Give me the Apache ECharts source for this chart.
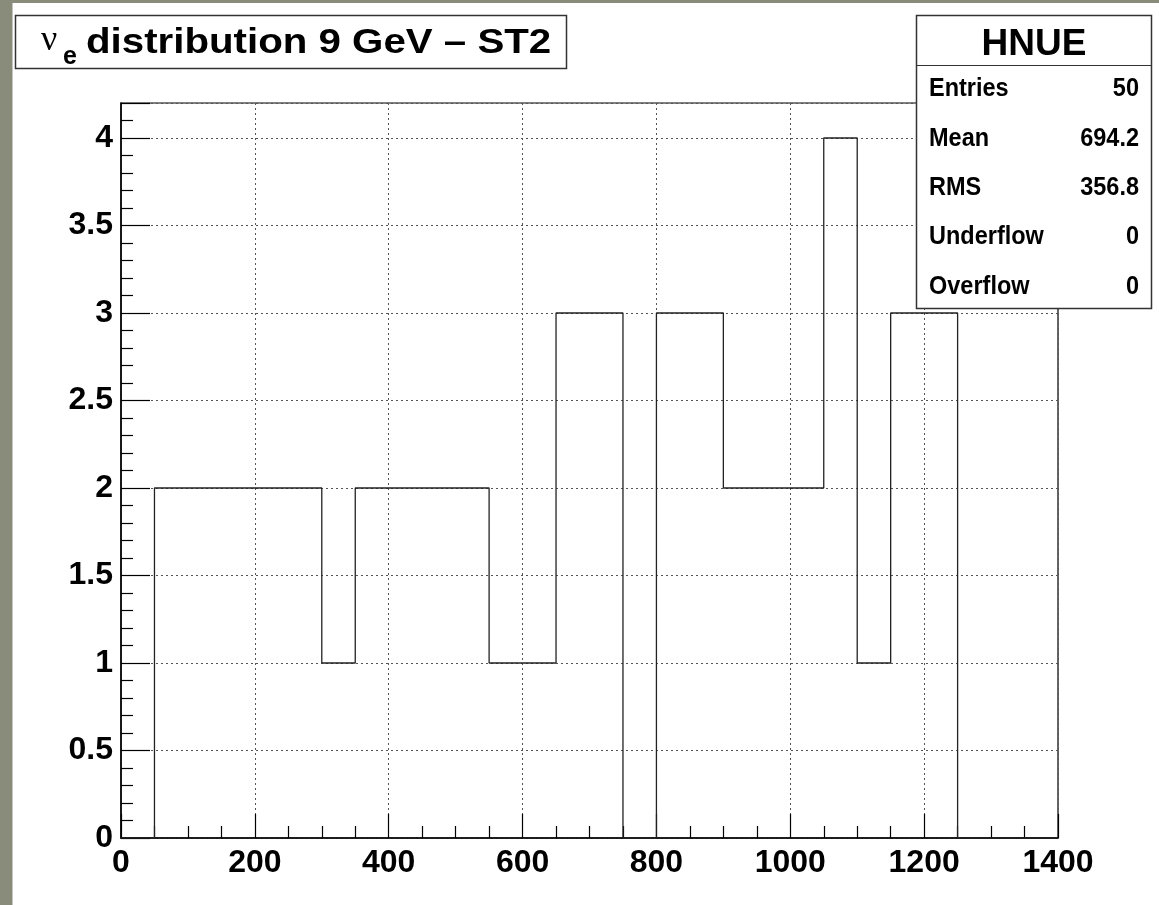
<!DOCTYPE html>
<html>
  <head>
    <meta charset="utf-8" />
    <title>nu_e distribution 9 GeV - ST2</title>
    <script src="https://cdn.jsdelivr.net/npm/echarts@6/dist/echarts.min.js"></script>
    <style>
      body { margin: 0; background: #ffffff; }
      #HNUE { width: 1159px; height: 905px; }
    </style>
  </head>

  <body>
    <div id="HNUE"></div>
  </body>

  <script type="text/javascript">
    // histogram HNUE: 28 bins of 50, from 0 to 1400
    var binWidth = 50;
    var binCounts = [
      0, 2, 2, 2, 2, 2, 1, 2, 2, 2, 2, 1, 1, 3,
      3, 0, 3, 3, 2, 2, 2, 4, 1, 3, 3, 0, 0, 0,
    ];
    var xTicks = [0, 200, 400, 600, 800, 1000, 1200, 1400];
    var yTicks = [0, 0.5, 1, 1.5, 2, 2.5, 3, 3.5, 4];

    var statNames = ["Entries", "Mean", "RMS", "Underflow", "Overflow"];
    var statValues = ["50", "694.2", "356.8", "0", "0"];

    // step outline: left edge of each bin, then close at the right end
    var outline = [];
    for (var i = 0; i < binCounts.length; i++) {
      outline.push([i * binWidth, binCounts[i]]);
    }
    outline.push([binCounts.length * binWidth, binCounts[binCounts.length - 1]]);

    var chart = echarts.init(document.getElementById("HNUE"));
    var font = "Liberation Sans";

    var graphics = [
      // grey canvas border (left and top)
      { type: "rect", shape: { x: 0, y: 0, width: 12.5, height: 905 }, style: { fill: "#8a8c7b" }, z: 10 },
      { type: "rect", shape: { x: 0, y: 0, width: 1159, height: 3 }, style: { fill: "#8a8c7b" }, z: 10 },
      // title box
      {
        type: "rect",
        shape: { x: 15.5, y: 15.5, width: 551, height: 53 },
        style: { fill: "#ffffff", stroke: "#333333", lineWidth: 1.5 },
        z: 10,
      },
      {
        type: "text", x: 41, y: 41, z: 11,
        style: { text: "\u03bd", font: "normal 36px 'Liberation Serif'", fill: "#000", verticalAlign: "middle" },
      },
      {
        type: "text", x: 63, y: 57, z: 11,
        style: { text: "e", font: "bold 25px '" + font + "'", fill: "#000", verticalAlign: "middle" },
      },
      {
        type: "text", x: 86, y: 43, z: 11, scaleX: 1.15,
        style: { text: "distribution 9 GeV \u2013 ST2", font: "bold 35px '" + font + "'", fill: "#000", verticalAlign: "middle" },
      },
      // stats box
      {
        type: "rect",
        shape: { x: 916.5, y: 15.5, width: 235, height: 293 },
        style: { fill: "#ffffff", stroke: "#333333", lineWidth: 1.5 },
        z: 10,
      },
      {
        type: "line",
        shape: { x1: 916.5, y1: 65.5, x2: 1151.5, y2: 65.5 },
        style: { stroke: "#333333", lineWidth: 1.2 },
        z: 11,
      },
      {
        type: "text", x: 1034, y: 45, z: 11,
        style: { text: "HNUE", font: "bold 37px '" + font + "'", fill: "#000", align: "center", verticalAlign: "middle" },
      },
    ];

    var rowY = [89, 138.5, 188, 237, 286.5];
    for (var r = 0; r < statNames.length; r++) {
      graphics.push({
        type: "text", x: 929, y: rowY[r], z: 11, scaleY: 1.1,
        style: { text: statNames[r], font: "bold 23.5px '" + font + "'", fill: "#000", verticalAlign: "middle" },
      });
      graphics.push({
        type: "text", x: 1139, y: rowY[r], z: 11, scaleY: 1.1,
        style: { text: statValues[r], font: "bold 23.5px '" + font + "'", fill: "#000", align: "right", verticalAlign: "middle" },
      });
    }

    var option = {
      animation: false,
      backgroundColor: "#ffffff",
      grid: {
        left: 121,
        right: 101,
        top: 103,
        bottom: 67,
        show: true,
        borderColor: "#000",
        borderWidth: 1.2,
        backgroundColor: "#ffffff",
      },
      xAxis: {
        type: "value",
        min: xTicks[0],
        max: xTicks[xTicks.length - 1],
        interval: 200,
        axisLine: { show: true, onZero: false, lineStyle: { color: "#000", width: 1.5 } },
        axisTick: { show: true, inside: true, length: 24, lineStyle: { color: "#000", width: 1.2 } },
        minorTick: { show: true, splitNumber: 4, length: 12, lineStyle: { color: "#000", width: 1.2 } },
        axisLabel: {
          margin: 9,
          color: "#000",
          fontFamily: font,
          fontWeight: "bold",
          fontSize: 32,
          formatter: function (v) { return String(v); },
        },
        splitLine: { show: true, lineStyle: { color: "#555", width: 1, type: [2, 3] } },
      },
      yAxis: {
        type: "value",
        min: yTicks[0],
        max: 4.2,
        interval: 0.5,
        axisLine: { show: true, lineStyle: { color: "#000", width: 1.5 } },
        axisTick: { show: true, inside: true, length: 29, lineStyle: { color: "#000", width: 1.2 } },
        minorTick: { show: true, splitNumber: 5, length: 12, lineStyle: { color: "#000", width: 1.2 } },
        axisLabel: {
          margin: 8,
          color: "#000",
          fontFamily: font,
          fontWeight: "bold",
          fontSize: 32,
          showMaxLabel: false,
        },
        splitLine: { show: true, lineStyle: { color: "#555", width: 1, type: [2, 3] } },
      },
      series: [
        {
          type: "line",
          step: "end",
          data: outline,
          symbol: "none",
          lineStyle: { color: "#222", width: 1.3 },
          z: 5,
        },
      ],
      graphic: graphics,
    };

    chart.setOption(option);
  </script>
</html>
